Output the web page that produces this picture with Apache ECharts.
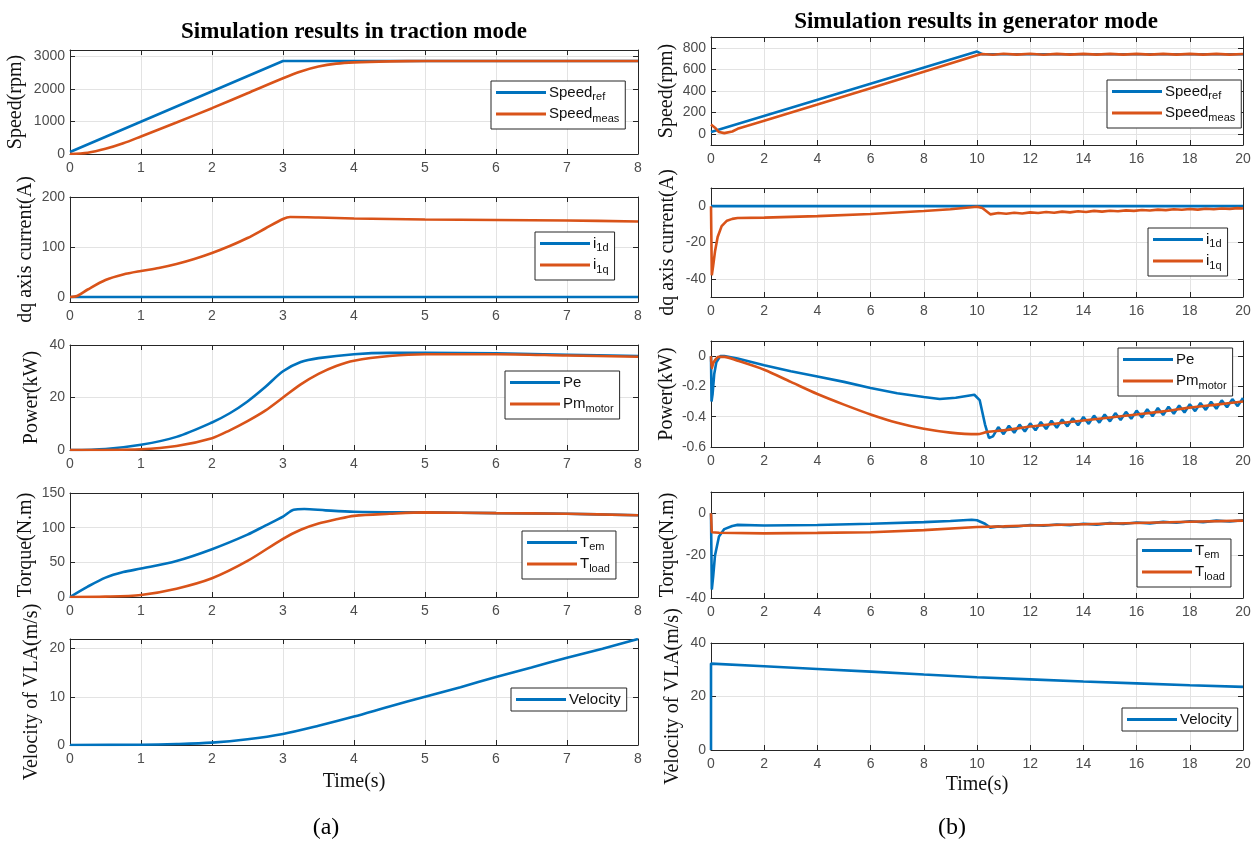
<!DOCTYPE html>
<html><head><meta charset="utf-8">
<script src="https://cdn.jsdelivr.net/npm/echarts@6/dist/echarts.min.js"></script>
<style>html,body{margin:0;padding:0;background:#fff}#c{width:1255px;height:842px}</style>
</head><body><div id="c"></div>
<script>
// ---------- (a) traction mode, t in s ----------
const speedRef_a = [[0,60],[3,2860],[8,2860]];
const speedMeas_a = [[0,0],[0.25,40],[0.5,160],[0.75,330],[1,540],[1.5,970],[2,1410],[2.5,1870],[3,2330],[3.25,2540],[3.5,2690],[3.75,2780],[4,2820],[4.5,2850],[5,2860],[8,2860]];
const i1d_a = [[0,0],[8,0]];
const i1q_a = [[0,0],[0.1,2],[0.25,15],[0.5,34],[0.75,45],[1,52],[1.25,58],[1.5,66],[1.75,76],[2,88],[2.25,102],[2.5,118],[2.75,137],[3,156],[3.1,160],[3.5,159],[4,157],[5,155],[6,154],[7,153],[8,151]];
const pe_a = [[0,0],[0.5,0.4],[1,2],[1.5,5],[2,10.5],[2.25,14],[2.5,18.5],[2.75,24],[3,30],[3.25,33.5],[3.5,35],[4,36.5],[4.5,37],[5,37],[6,36.8],[7,36.3],[8,35.8]];
const pm_a = [[0,0],[1,0.3],[1.5,1.5],[2,4.5],[2.25,7.5],[2.5,11],[2.75,15],[3,20],[3.25,25],[3.5,29],[3.75,32],[4,34],[4.5,35.8],[5,36.5],[6,36.5],[7,36],[8,35.5]];
const tem_a = [[0,0],[0.25,15],[0.5,28],[0.75,36],[1,41],[1.5,52],[2,69],[2.5,90],[2.75,103],[3,116],[3.15,126],[3.3,127],[3.6,125],[4,123],[5,122],[6,121],[7,120],[8,118]];
const tload_a = [[0,0],[0.5,0.5],[1,3],[1.5,12],[2,27],[2.5,52],[3,84],[3.25,97],[3.5,106],[3.75,112],[4,117],[4.5,120],[5,122],[6,121],[7,120],[8,118]];
const vel_a = [[0,0],[1,0.05],[1.5,0.2],[2,0.5],[2.5,1.2],[3,2.3],[3.5,4],[4,5.9],[4.5,8],[5,10],[5.5,12],[6,14.1],[6.5,16.1],[7,18.1],[7.5,20],[8,22]];

// ---------- (b) generator mode ----------
const speedRef_b = [[0,20],[10,765],[10.2,740],[20,740]];
const speedMeas_b = [[0,90],[0.05,95],[0.15,60],[0.3,20],[0.5,10],[0.8,25],[1,50],[2,125],[4,275],[6,426],[8,578],[10,730],[10.2,742],[10.6,735],[11,745],[11.5,737],[12,745],[12.5,736],[13,744],[13.5,737],[14,744],[14.5,737],[15,744],[15.5,737],[16,744],[16.5,737],[17,744],[17.5,737],[18,744],[18.5,737],[19,744],[19.5,737],[20,742]];
const i1d_b = [[0,0],[20,0]];
const i1q_b = [[0,0],[0.03,-38],[0.08,-33],[0.15,-25],[0.25,-17],[0.4,-11],[0.6,-8],[0.8,-7],[1,-6.5],[2,-6.3],[4,-5.5],[6,-4.3],[8,-2.7],[9,-1.7],[9.8,-0.6],[10,-0.3],[10.2,-1],[10.5,-4.5],[10.8,-3.8],[11.1,-4.2],[11.4,-3.6],[11.7,-4],[12,-3.4],[12.3,-3.8],[12.6,-3.2],[12.9,-3.6],[13.2,-3],[13.5,-3.4],[13.8,-2.8],[14.1,-3.2],[14.4,-2.6],[14.7,-3],[15,-2.5],[15.3,-2.8],[15.6,-2.3],[15.9,-2.6],[16.2,-2.1],[16.5,-2.4],[16.8,-1.9],[17.1,-2.2],[17.4,-1.7],[17.7,-2],[18,-1.6],[18.3,-1.9],[18.6,-1.4],[18.9,-1.7],[19.2,-1.3],[19.5,-1.5],[19.8,-1.1],[20,-1.3]];
const pe_b = [[0,0],[0.02,-0.3],[0.06,-0.25],[0.12,-0.12],[0.2,-0.04],[0.35,0],[0.5,0],[1,-0.015],[2,-0.06],[3,-0.1],[4,-0.135],[5,-0.17],[6,-0.21],[7,-0.245],[8,-0.27],[8.6,-0.283],[9.2,-0.275],[9.9,-0.255],[10.1,-0.29],[10.3,-0.45],[10.45,-0.54],[10.6,-0.53],
  [10.8,-0.469],[11,-0.515],[11.2,-0.46],[11.4,-0.506],[11.6,-0.452],[11.8,-0.498],[12,-0.444],[12.2,-0.489],[12.4,-0.435],[12.6,-0.481],[12.8,-0.427],[13,-0.473],[13.2,-0.418],[13.4,-0.464],[13.6,-0.41],[13.8,-0.456],[14,-0.402],[14.2,-0.447],[14.4,-0.393],[14.6,-0.439],[14.8,-0.385],[15,-0.431],[15.2,-0.376],[15.4,-0.422],[15.6,-0.368],[15.8,-0.414],[16,-0.36],[16.2,-0.405],[16.4,-0.351],[16.6,-0.397],[16.8,-0.343],[17,-0.389],[17.2,-0.334],[17.4,-0.38],[17.6,-0.326],[17.8,-0.372],[18,-0.318],[18.2,-0.363],[18.4,-0.309],[18.6,-0.355],[18.8,-0.301],[19,-0.347],[19.2,-0.292],[19.4,-0.338],[19.6,-0.284],[19.8,-0.33],[20,-0.276]];
const pm_b = [[0,0],[0.03,-0.08],[0.1,-0.04],[0.3,-0.005],[0.5,-0.005],[1,-0.03],[2,-0.09],[3,-0.17],[4,-0.25],[5,-0.32],[6,-0.385],[7,-0.44],[8,-0.48],[9,-0.505],[10,-0.515],[10.4,-0.5],[11,-0.49],[12,-0.465],[13,-0.445],[14,-0.425],[15,-0.405],[16,-0.385],[17,-0.365],[18,-0.34],[19,-0.32],[20,-0.3]];
const tem_b = [[0,0],[0.03,-36],[0.08,-30],[0.15,-20],[0.3,-11],[0.5,-7.5],[0.8,-6],[1,-5.5],[2,-5.8],[4,-5.6],[6,-5],[8,-4.2],[9,-3.7],[9.8,-3.1],[10,-3.3],[10.3,-5],[10.5,-6.8],[10.8,-6.2],[11,-6.5],[11.5,-6.3],[12,-5.6],[12.5,-5.9],[13,-5.3],[13.5,-5.7],[14,-5],[14.5,-5.4],[15,-4.7],[15.5,-5.1],[16,-4.4],[16.5,-4.8],[17,-4.1],[17.5,-4.5],[18,-3.8],[18.5,-4.2],[19,-3.5],[19.5,-3.9],[20,-3.3]];
const tload_b = [[0,0],[0.03,-9],[0.3,-9.2],[2,-9.5],[4,-9.3],[6,-9],[8,-8],[10,-6.5],[11,-6.2],[12,-5.8],[14,-5.2],[16,-4.6],[18,-4],[20,-3.5]];
const vel_b = [[0,0],[0,32.3],[2,31.3],[4,30.3],[6,29.3],[8,28.2],[10,27.2],[12,26.4],[14,25.6],[16,24.9],[18,24.2],[20,23.6]];

// tick values
const yT_speedA = [0,1000,2000,3000];
const yT_curA = [0,100,200];
const yT_powA = [0,20,40];
const yT_torA = [0,50,100,150];
const yT_velA = [0,10,20];
const yT_speedB = [0,200,400,600,800];
const yT_curB = [-40,-20,0];
const yT_powB = [-0.6,-0.4,-0.2,0];
const yT_torB = [-40,-20,0];
const yT_velB = [0,20,40];

const BLUE = '#0072BD', ORANGE = '#D95319';
const SERIF = '"Liberation Serif","Times New Roman",serif';
const SANS = '"Liberation Sans",Arial,sans-serif';

const LX = {left:70, width:568}, RX = {left:711, width:532};
// series entries: [name, data, colour, smooth]
const panels = [
  {g:LX, top:50, h:104, x:[0,8,1], y:[0,3200], yt:yT_speedA, name:'Speed(rpm)', gap:44, s:[['Speed_ref',speedRef_a,BLUE,0],['Speed_meas',speedMeas_a,ORANGE,0.3]], lg:[491,81]},
  {g:LX, top:197, h:105, x:[0,8,1], y:[-10,200], yt:yT_curA, name:'dq axis current(A)', gap:34, s:[['i_1d',i1d_a,BLUE,0],['i_1q',i1q_a,ORANGE,0.3]], lg:[535,232]},
  {g:LX, top:345, h:105, x:[0,8,1], y:[0,40], yt:yT_powA, name:'Power(kW)', gap:28, s:[['Pe',pe_a,BLUE,0.3],['Pm_motor',pm_a,ORANGE,0.3]], lg:[505,371]},
  {g:LX, top:493, h:104, x:[0,8,1], y:[0,150], yt:yT_torA, name:'Torque(N.m)', gap:34, s:[['T_em',tem_a,BLUE,0.3],['T_load',tload_a,ORANGE,0.3]], lg:[522,531]},
  {g:LX, top:639, h:106, x:[0,8,1], y:[0,22], yt:yT_velA, name:'Velocity of VLA(m/s)', gap:28, s:[['Velocity',vel_a,BLUE,0.3]], lg:[511,688], xname:'Time(s)', xgap:27},
  {g:RX, top:37, h:108, x:[0,20,2], y:[-100,900], yt:yT_speedB, name:'Speed(rpm)', gap:34, s:[['Speed_ref',speedRef_b,BLUE,0],['Speed_meas',speedMeas_b,ORANGE,0]], lg:[1107,80]},
  {g:RX, top:188, h:109, x:[0,20,2], y:[-50,10], yt:yT_curB, name:'dq axis current(A)', gap:33, s:[['i_1d',i1d_b,BLUE,0],['i_1q',i1q_b,ORANGE,0]], lg:[1148,228]},
  {g:RX, top:341, h:106, x:[0,20,2], y:[-0.6,0.1], yt:yT_powB, name:'Power(kW)', gap:34, s:[['Pe',pe_b,BLUE,0],['Pm_motor',pm_b,ORANGE,0.3]], lg:[1118,348]},
  {g:RX, top:492, h:106, x:[0,20,2], y:[-40,10], yt:yT_torB, name:'Torque(N.m)', gap:33, s:[['T_em',tem_b,BLUE,0],['T_load',tload_b,ORANGE,0]], lg:[1137,539]},
  {g:RX, top:643, h:107, x:[0,20,2], y:[0,40], yt:yT_velB, name:'Velocity of VLA(m/s)', gap:28, s:[['Velocity',vel_b,BLUE,0]], lg:[1122,708], xname:'Time(s)', xgap:25}
];

const legendText = {
  'Speed_ref':'{m|Speed}{s|ref}', 'Speed_meas':'{m|Speed}{s|meas}',
  'i_1d':'{m|i}{s|1d}', 'i_1q':'{m|i}{s|1q}',
  'Pe':'{m|Pe}{s| }', 'Pm_motor':'{m|Pm}{s|motor}',
  'T_em':'{m|T}{s|em}', 'T_load':'{m|T}{s|load}',
  'Velocity':'{m|Velocity}'
};

const AX = '#262626';
const grid = [], xAxis = [], yAxis = [], series = [], legend = [];
panels.forEach((p, i) => {
  grid.push({left:p.g.left, width:p.g.width, top:p.top, height:p.h, containLabel:false});
  const lineSt = {show:true, onZero:false, lineStyle:{color:AX, width:1}};
  const tickSt = {show:true, inside:true, length:5, lineStyle:{color:AX, width:1}};
  xAxis.push({type:'value', gridIndex:i, min:p.x[0], max:p.x[1], interval:p.x[2], position:'bottom',
    axisLine:lineSt, axisTick:tickSt,
    axisLabel:{color:'#4d4d4d', fontFamily:SANS, fontSize:14, margin:7},
    splitLine:{show:true, lineStyle:{color:'#e3e3e3', width:1}},
    name:p.xname || '', nameLocation:'middle', nameGap:p.xgap || 20,
    nameTextStyle:{fontFamily:SERIF, fontSize:20, color:'#111'}});
  xAxis.push({type:'value', gridIndex:i, min:p.x[0], max:p.x[1], interval:p.x[2], position:'top',
    axisLine:lineSt, axisTick:tickSt, axisLabel:{show:false}, splitLine:{show:false}});
  yAxis.push({type:'value', gridIndex:i, min:p.y[0], max:p.y[1], position:'left',
    axisLine:lineSt, axisTick:Object.assign({customValues:p.yt}, tickSt),
    axisLabel:{customValues:p.yt, color:'#4d4d4d', fontFamily:SANS, fontSize:14, margin:5, formatter:v => String(v)},
    splitLine:{show:true, lineStyle:{color:'#e3e3e3', width:1}},
    name:p.name, nameLocation:'middle', nameGap:p.gap, nameRotate:90,
    nameTextStyle:{fontFamily:SERIF, fontSize:20, color:'#111'}});
  yAxis.push({type:'value', gridIndex:i, min:p.y[0], max:p.y[1], position:'right',
    axisLine:lineSt, axisTick:Object.assign({customValues:p.yt}, tickSt),
    axisLabel:{show:false, customValues:p.yt}, splitLine:{show:false}});
  p.s.forEach(([name, data, color, sm]) => {
    series.push({type:'line', name, data, xAxisIndex:2*i, yAxisIndex:2*i, symbol:'none', showSymbol:false,
      smooth:sm || false,
      lineStyle:{color, width:2.6}, itemStyle:{color}, clip:true, animation:false});
  });
  legend.push({data:p.s.map(s => s[0]), left:p.lg[0], top:p.lg[1], orient:'vertical', selectedMode:false,
    icon:'rect', itemWidth:50, itemHeight:3, itemGap:4, itemStyle:{borderWidth:0},
    padding:p.s.length > 1 ? [4,6,5,5] : [4,6,4,5],
    backgroundColor:'#fff', borderColor:AX, borderWidth:1, borderRadius:0,
    formatter:n => legendText[n],
    textStyle:{fontFamily:SANS, color:'#111', padding:[0,0,0,-2], rich:{
      m:{fontSize:15, fontFamily:SANS, color:'#111'},
      s:{fontSize:11, fontFamily:SANS, color:'#111', padding:[9,0,0,0]}
    }}});
});

const chart = echarts.init(document.getElementById('c'), null, {renderer:'canvas'});
chart.setOption({
  backgroundColor:'#fff',
  animation:false,
  grid, xAxis, yAxis, series, legend,
  graphic:[
    {type:'text', x:354, y:32, style:{text:'Simulation results in traction mode', font:'bold 23px "Liberation Serif", serif', fill:'#000', align:'center', verticalAlign:'middle'}},
    {type:'text', x:976, y:22, style:{text:'Simulation results in generator mode', font:'bold 23px "Liberation Serif", serif', fill:'#000', align:'center', verticalAlign:'middle'}},
    {type:'text', x:326, y:828, style:{text:'(a)', font:'24px "Liberation Serif", serif', fill:'#000', align:'center', verticalAlign:'middle'}},
    {type:'text', x:952, y:828, style:{text:'(b)', font:'24px "Liberation Serif", serif', fill:'#000', align:'center', verticalAlign:'middle'}}
  ]
});
</script></body></html>
